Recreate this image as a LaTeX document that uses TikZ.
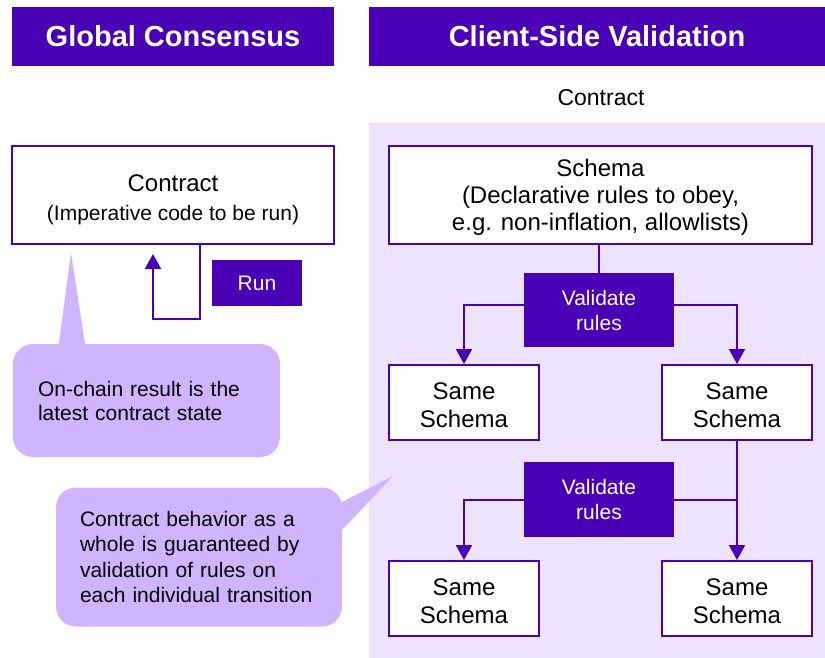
\documentclass[tikz,border=0pt]{standalone}
\usepackage{fontspec}
\setmainfont{Liberation Sans}
\usetikzlibrary{arrows.meta}
\definecolor{deep}{RGB}{74,0,180}
\definecolor{notefill}{RGB}{208,180,255}
\definecolor{panel}{RGB}{237,227,255}
\newcommand\setfs[2]{\fontsize{#1}{#2}\selectfont}
% invisible strut that lowers a text block inside its box
\newcommand\padtop[1]{\rule{0pt}{#1}}
\tikzset{
  header/.style={fill=deep, text=white, font=\setfs{29}{34}\bfseries, inner sep=0pt},
  plainbox/.style={draw=deep, line width=2pt, fill=white, align=center, inner sep=0pt},
  samebox/.style={plainbox, minimum width=150pt, minimum height=75pt, font=\setfs{24}{28}},
  darkbox/.style={fill=deep, text=white, align=center, inner sep=0pt, font=\setfs{21}{25}},
  note/.style={fill=notefill, rounded corners=20pt, align=left, inner ysep=0pt, font=\setfs{21}{24}},
  flow/.style={draw=deep, line width=2pt, -{Triangle[width=16pt,length=15pt]}},
  link/.style={draw=deep, line width=2pt},
}
\begin{document}
\begin{tikzpicture}[x=1pt,y=-1pt]
\useasboundingbox (0,0) rectangle (825,658);

% shaded panel behind the client-side part
\fill[panel] (369,123) rectangle (825,658);

% column headers
\node[header, minimum width=322pt, minimum height=59pt] (gc) at (173,36.5) {Global Consensus};
\node[header, minimum width=456pt, minimum height=59pt] (csv) at (597,36.5) {Client-Side Validation};
\node[font=\setfs{23}{27}] (contractlbl) at (601,98) {Contract};

% global consensus side
\node[plainbox, minimum width=322pt, minimum height=98pt, font=\setfs{24}{29}] (leftbox) at (173,195)
  {\padtop{26.5pt}Contract\\{\setfs{21}{29}(Imperative code to be run)}};
\node[darkbox, minimum width=90pt, minimum height=46pt] (run) at (257,283) {Run};
\coordinate (loopR) at (200,319);
\coordinate (loopL) at (153,319);
\draw[flow] (leftbox.south -| loopR) -- (loopR) -- (loopL) -- ([yshift=-9pt]leftbox.south -| loopL);

% callouts
\node[note, text width=217pt, inner xsep=25pt, minimum height=113pt] (note1) at (146.5,400.5)
  {On-chain result is the\\latest contract state};
\coordinate (tip1) at (71,253);
\fill[notefill] (58,350) -- (tip1) -- (86,350) -- cycle;

\node[note, text width=238pt, inner xsep=24pt, minimum height=139pt, font=\setfs{21}{25.5}] (note2) at (199,557)
  {Contract behavior as a\\whole is guaranteed by\\validation of rules on\\each individual transition};
\coordinate (tip2) at (393,476);
\fill[notefill] (336,505) -- (tip2) -- (342,530) -- (336,530) -- cycle;

% client-side validation side
\node[plainbox, minimum width=423pt, minimum height=98pt, font=\setfs{24}{27}] (schema) at (600.5,195)
  {\padtop{22.5pt}Schema\\(Declarative rules to obey,\\e.g. non-inflation, allowlists)};
\node[darkbox, minimum width=150pt, minimum height=74pt] (val1) at (599,310) {Validate\\rules};
\node[samebox] (s1) at (464,402.5) {\padtop{21.5pt}Same\\Schema};
\node[samebox] (s2) at (737,402.5) {\padtop{21.5pt}Same\\Schema};
\node[darkbox, minimum width=150pt, minimum height=75pt] (val2) at (599,499.5) {Validate\\rules};
\node[samebox] (s3) at (464,598.5) {\padtop{21.5pt}Same\\Schema};
\node[samebox] (s4) at (737,598.5) {\padtop{21.5pt}Same\\Schema};

\draw[link] (schema.south -| val1.north) -- (val1.north);
\draw[flow] ([yshift=5pt]val1.west) -| (s1.north);
\draw[flow] ([yshift=5pt]val1.east) -| (s2.north);
\draw[flow] (s2.south) -- (s4.north);
\draw[link] (val2.east) -- (val2.east -| s2.south);
\draw[flow] (val2.west) -| (s3.north);
\end{tikzpicture}
\end{document}
